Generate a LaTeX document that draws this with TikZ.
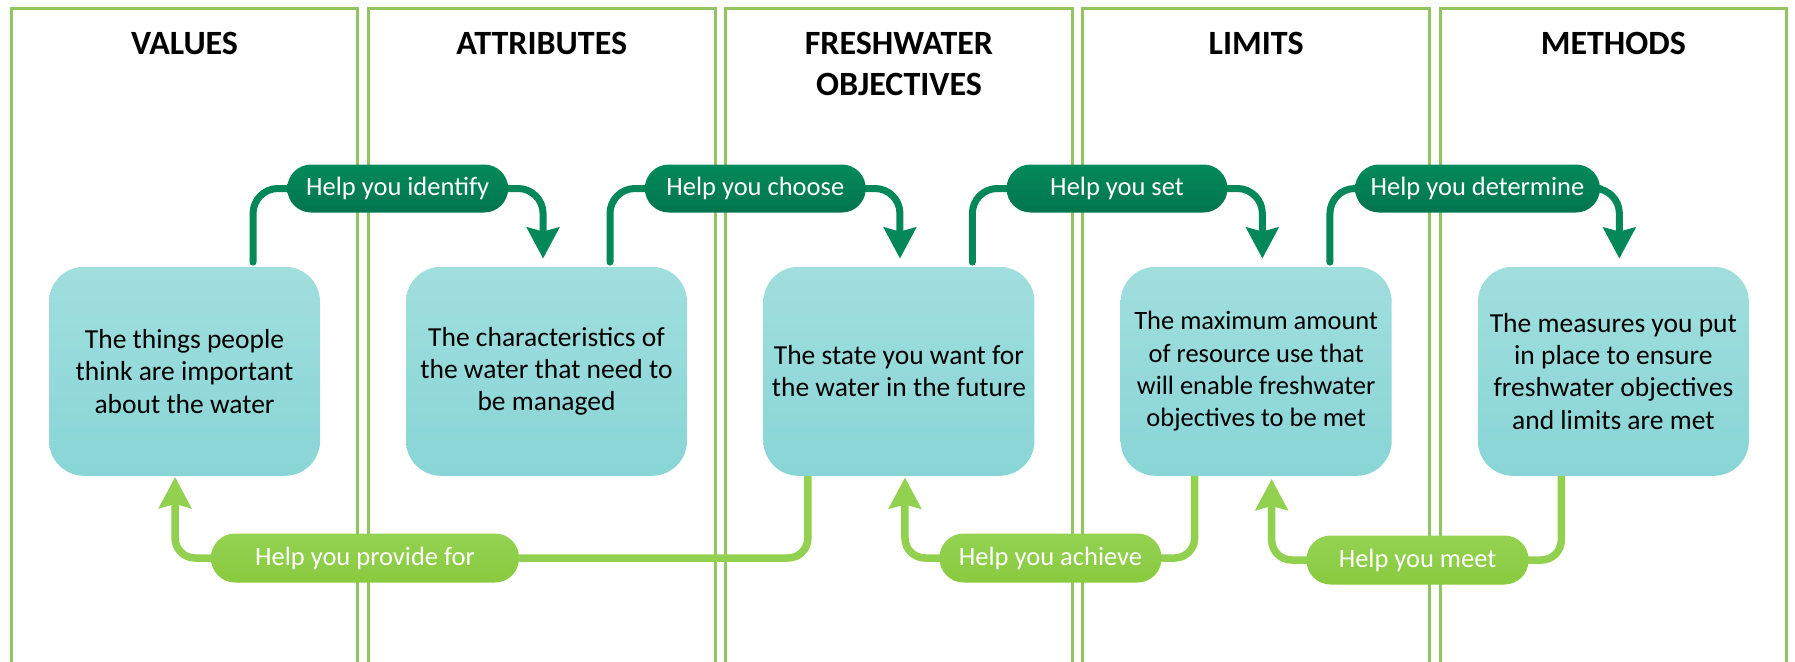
\documentclass[tikz,border=0pt]{standalone}
\usepackage{fontspec}
\setmainfont{Carlito}
\usetikzlibrary{arrows.meta}
\definecolor{panelgreen}{RGB}{146,196,96}
\definecolor{teallight}{RGB}{161,222,222}
\definecolor{tealdark}{RGB}{137,213,214}
\definecolor{dkgreenA}{RGB}{3,138,91}
\definecolor{dkgreenB}{RGB}{2,117,78}
\definecolor{dkline}{RGB}{4,136,90}
\definecolor{ltgreenA}{RGB}{148,210,82}
\definecolor{ltgreenB}{RGB}{137,202,63}
\definecolor{ltline}{RGB}{146,208,80}
\begin{document}
\begin{tikzpicture}[x=1pt,y=-1pt,
  panel/.style={draw=panelgreen,line width=3pt},
  header/.style={font=\fontsize{34}{41}\selectfont\bfseries,align=center,anchor=north,inner sep=0pt},
  infobox/.style={rectangle,rounded corners=35pt,minimum width=271pt,minimum height=209pt,
    top color=teallight,bottom color=tealdark,draw=none,align=center,
    font=\fontsize{27.5}{32.3}\selectfont,inner sep=0pt},
  dkpill/.style={rectangle,rounded corners=24pt,minimum height=48pt,top color=dkgreenA,
    bottom color=dkgreenB,draw=none,text=white,font=\fontsize{26.5}{30}\selectfont,inner sep=0pt},
  ltpill/.style={rectangle,rounded corners=24pt,minimum height=49pt,top color=ltgreenA,
    bottom color=ltgreenB,draw=none,text=white,font=\fontsize{26.5}{30}\selectfont,inner sep=0pt},
  dkconn/.style={draw=dkline,line width=7pt,rounded corners=25pt,line cap=round},
  ltconn/.style={draw=ltline,line width=7.5pt,rounded corners=20pt,line cap=round},
  tip/.style={-{Stealth[length=31pt,width=32pt,inset=4pt]}}
]
\clip (0,0) rectangle (1795,661);
% panels
\foreach \l in {11.3,368.5,725.7,1082.9,1440.1}{
  \draw[panel] (\l,8.3) rectangle ({\l+346.5},700);
}
% headers
\node[header] (h1) at (184.55,32) {VALUES};
\node[header] (h2) at (541.75,32) {ATTRIBUTES};
\node[header] (h3) at (898.95,32) {FRESHWATER\\OBJECTIVES};
\node[header] (h4) at (1256.15,32) {LIMITS};
\node[header] (h5) at (1613.35,32) {METHODS};
% box positions (invisible placeholders, drawn later)
\path (184.55,371.3) coordinate (c1) (546.5,371.3) coordinate (c2) (898.95,371.3) coordinate (c3)
      (1256.15,371.3) coordinate (c4) (1613.35,371.3) coordinate (c5);
\node[infobox,opacity=0] (b1) at (c1) {};
\node[infobox,minimum width=281pt,opacity=0] (b2) at (c2) {};
\node[infobox,opacity=0] (b3) at (c3) {};
\node[infobox,opacity=0] (b4) at (c4) {};
\node[infobox,opacity=0] (b5) at (c5) {};
% pill positions
\path (397.7,188.5) coordinate (q1) (755.3,188.5) coordinate (q2) (1117,188.5) coordinate (q3)
      (1477.5,188.5) coordinate (q4) (365,558) coordinate (q5) (1050.5,558) coordinate (q6)
      (1417.5,560) coordinate (q7);
\node[dkpill,minimum width=221pt,opacity=0] (p1) at (q1) {Help you identify};
\node[dkpill,minimum width=221pt,opacity=0] (p2) at (q2) {Help you choose};
\node[dkpill,minimum width=221pt,opacity=0] (p3) at (q3) {Help you set};
\node[dkpill,minimum width=245pt,opacity=0] (p4) at (q4) {Help you determine};
\node[ltpill,minimum width=308pt,opacity=0] (p5) at (q5) {Help you provide for};
\node[ltpill,minimum width=222pt,opacity=0] (p6) at (q6) {Help you achieve};
\node[ltpill,minimum width=222pt,opacity=0] (p7) at (q7) {Help you meet};
% top connectors
\draw[dkconn] ([xshift=68.5pt,yshift=4.5pt]b1.north) |- (p1.west);
\draw[dkconn,tip] (p1.east) -| ([xshift=-3.45pt,yshift=8pt]b2.north);
\draw[dkconn] ([xshift=63.5pt,yshift=4.5pt]b2.north) |- (p2.west);
\draw[dkconn,tip] (p2.east) -| ([xshift=1pt,yshift=8pt]b3.north);
\draw[dkconn] ([xshift=73.4pt,yshift=4.5pt]b3.north) |- (p3.west);
\draw[dkconn,tip] (p3.east) -| ([xshift=6.2pt,yshift=8pt]b4.north);
\draw[dkconn] ([xshift=73.8pt,yshift=4.5pt]b4.north) |- (p4.west);
\draw[dkconn,tip] (p4.east) -| ([xshift=6pt,yshift=8pt]b5.north);
% bottom connectors
\draw[ltconn] ([xshift=-91pt]b3.south) |- (p5.east);
\draw[ltconn,tip] (p5.west) -| ([xshift=-9.5pt,yshift=-1pt]b1.south);
\draw[ltconn] ([xshift=-61.5pt]b4.south) |- (p6.east);
\draw[ltconn,tip] (p6.west) -| ([xshift=6pt,yshift=-1.5pt]b3.south);
\draw[ltconn] ([xshift=-52pt]b5.south) |- (p7.east);
\draw[ltconn,tip] (p7.west) -| ([xshift=15.5pt,yshift=-3pt]b4.south);
% boxes drawn
\node[infobox] (B1) at (b1) {The things people\\think are important\\about the water};
\node[infobox,minimum width=281pt] (B2) at (b2) {The characteristics of\\the water that need to\\be managed};
\node[infobox] (B3) at (b3) {The state you want for\\the water in the future};
\node[infobox,font=\fontsize{26.5}{32.3}\selectfont] (B4) at (b4) {The maximum amount\\of resource use that\\will enable freshwater\\objectives to be met};
\node[infobox] (B5) at (b5) {The measures you put\\in place to ensure\\freshwater objectives\\and limits are met};
% pills drawn
\node[dkpill,minimum width=221pt] (P1) at (p1) {Help you identify};
\node[dkpill,minimum width=221pt] (P2) at (p2) {Help you choose};
\node[dkpill,minimum width=221pt] (P3) at (p3) {Help you set};
\node[dkpill,minimum width=245pt] (P4) at (p4) {Help you determine};
\node[ltpill,minimum width=308pt] (P5) at (p5) {Help you provide for};
\node[ltpill,minimum width=222pt] (P6) at (p6) {Help you achieve};
\node[ltpill,minimum width=222pt] (P7) at (p7) {Help you meet};
\end{tikzpicture}
\end{document}
